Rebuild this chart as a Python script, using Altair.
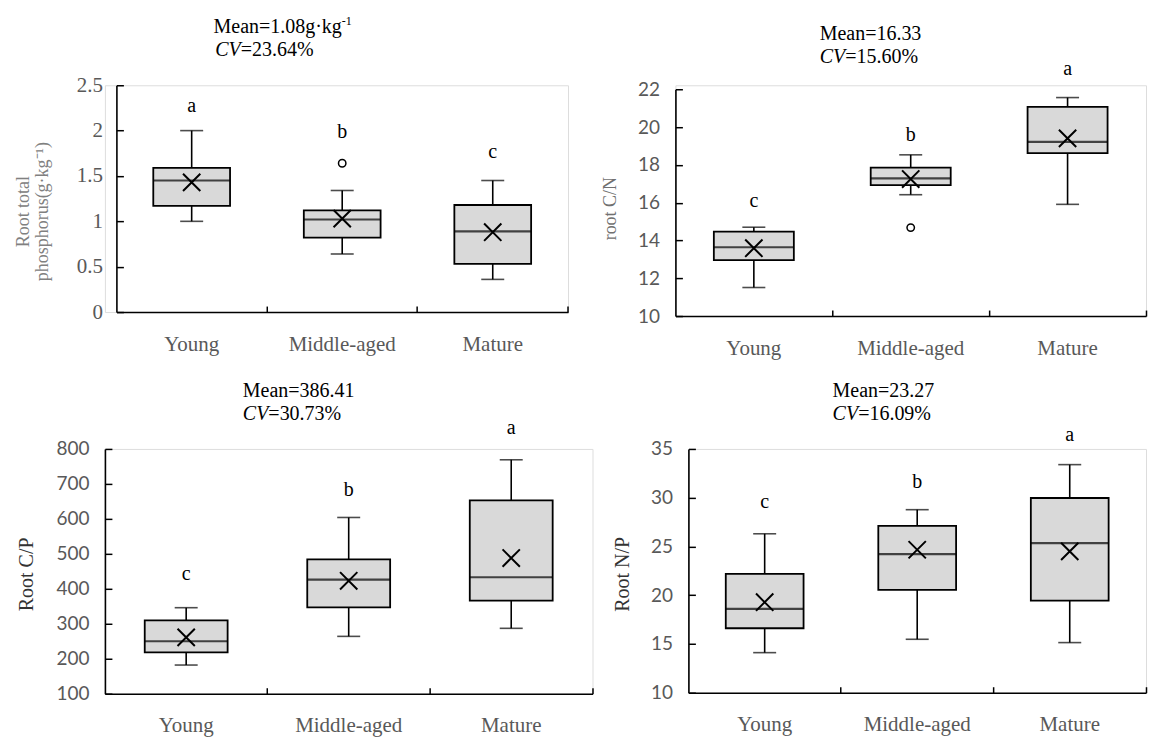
import altair as alt
import pandas as pd

# ---------------- data ----------------
cats = ["Young", "Middle-aged", "Mature"]

# Panel 1: root total phosphorus
p1_lower = [1.00, 0.64, 0.36]
p1_q1 = [1.17, 0.82, 0.53]
p1_median = [1.45, 1.02, 0.89]
p1_q3 = [1.59, 1.12, 1.18]
p1_upper = [2.00, 1.34, 1.45]
p1_mean = [1.43, 1.03, 0.88]
p1_out_cat = ["Middle-aged"]
p1_out_val = [1.64]
p1_letters = ["a", "b", "c"]
p1_letter_y = [2.27, 1.98, 1.76]
p1_ticks = [0, 0.5, 1, 1.5, 2, 2.5]

# Panel 2: root C/N
p2_lower = [11.51, 16.42, 15.91]
p2_q1 = [12.96, 16.93, 18.62]
p2_median = [13.64, 17.28, 19.22]
p2_q3 = [14.47, 17.85, 21.07]
p2_upper = [14.70, 18.53, 21.56]
p2_mean = [13.59, 17.25, 19.40]
p2_out_cat = ["Middle-aged"]
p2_out_val = [14.68]
p2_letters = ["c", "b", "a"]
p2_letter_y = [16.1, 19.6, 23.06]
p2_ticks = [10, 12, 14, 16, 18, 20, 22]

# Panel 3: root C/P
p3_lower = [182, 264, 287]
p3_q1 = [218, 347, 366]
p3_median = [250, 426, 433]
p3_q3 = [310, 484, 653]
p3_upper = [346, 604, 769]
p3_mean = [261, 423, 488]
p3_letters = ["c", "b", "a"]
p3_letter_y = [443, 683, 859]
p3_ticks = [100, 200, 300, 400, 500, 600, 700, 800]

# Panel 4: root N/P
p4_lower = [14.11, 15.48, 15.14]
p4_q1 = [16.61, 20.55, 19.45]
p4_median = [18.60, 24.21, 25.34]
p4_q3 = [22.19, 27.12, 29.97]
p4_upper = [26.30, 28.77, 33.39]
p4_mean = [19.28, 24.66, 24.49]
p4_letters = ["c", "b", "a"]
p4_letter_y = [29.55, 31.6, 36.4]
p4_ticks = [10, 15, 20, 25, 30, 35]

# header texts
p1_mean_txt, p1_sup_txt, p1_cv_txt = "Mean=1.08g·kg", "-1", "=23.64%"
p2_mean_txt, p2_cv_txt = "Mean=16.33", "=15.60%"
p3_mean_txt, p3_cv_txt = "Mean=386.41", "=30.73%"
p4_mean_txt, p4_cv_txt = "Mean=23.27", "=16.09%"
cv_word = "CV"

# ---------------- style ----------------
SERIF = "Liberation Serif"
SANS = "Lato"
GRAY = "#595959"
FILL = "#d9d9d9"
XPATH = "M-1,-1L1,1M-1,1L1,-1"
one = pd.DataFrame({"k": [0]})


def header(x0, y_mean, y_cv, mean_txt, cv_txt, sup_txt=None):
    layers = []
    if sup_txt is None:
        layers.append(alt.Chart(one).mark_text(align="left", baseline="alphabetic", font=SERIF,
                                               fontSize=20, color="black")
                      .encode(x=alt.value(x0), y=alt.value(y_mean), text=alt.value(mean_txt)))
    else:
        xj = x0 + 126.8
        layers.append(alt.Chart(one).mark_text(align="right", baseline="alphabetic", font=SERIF,
                                               fontSize=20, color="black")
                      .encode(x=alt.value(xj), y=alt.value(y_mean), text=alt.value(mean_txt)))
        layers.append(alt.Chart(one).mark_text(align="left", baseline="alphabetic", font=SERIF,
                                               fontSize=12, color="black")
                      .encode(x=alt.value(xj), y=alt.value(y_mean - 8), text=alt.value(sup_txt)))
    xc = x0 + 25.6
    layers.append(alt.Chart(one).mark_text(align="right", baseline="alphabetic", font=SERIF,
                                           fontSize=20, fontStyle="italic", color="black")
                  .encode(x=alt.value(xc), y=alt.value(y_cv), text=alt.value(cv_word)))
    layers.append(alt.Chart(one).mark_text(align="left", baseline="alphabetic", font=SERIF,
                                           fontSize=20, color="black")
                  .encode(x=alt.value(xc), y=alt.value(y_cv), text=alt.value(cv_txt)))
    return layers


def panel(lower, q1, med, q3, upper, mean, letters, letter_y, ticks, W, H, dx, dy,
          ytitle, ytitle_size, ytitle_color, ytitle_x, ytitle_y, tick_font, tick_size, label_pad,
          tick_fmt, hx, hy_mean, hy_cv, mean_txt, cv_txt, sup_txt=None,
          out_cat=None, out_val=None):
    df = pd.DataFrame({"cat": cats, "lower": lower, "q1": q1, "median": med,
                       "q3": q3, "upper": upper, "mean": mean})
    ldf = pd.DataFrame({"cat": cats, "letter": letters, "y": letter_y})
    xs = alt.Scale(type="band", domain=cats, paddingInner=0, paddingOuter=0, range=[dx, dx + W])
    ys = alt.Scale(domain=[ticks[0], ticks[-1]], nice=False, zero=False, range=[dy + H, dy])
    boxw = 0.51 * W / 3

    x_main = alt.Axis(orient="bottom", ticks=False, domainColor="black", domainWidth=1.6,
                      labelFont=SERIF, labelFontSize=21, labelColor=GRAY, labelPadding=21,
                      labelAngle=0, title=None, grid=False)
    y_main = alt.Axis(orient="left", offset=-dx, values=ticks, format=tick_fmt, ticks=False,
                      domainColor="black", domainWidth=1.6, labelFont=tick_font,
                      labelFontSize=tick_size, labelColor=GRAY, labelPadding=label_pad,
                      grid=False, title=ytitle, titleFont=SERIF, titleFontSize=ytitle_size,
                      titleColor=ytitle_color, titleFontWeight="normal", titleX=ytitle_x,
                      titleY=ytitle_y + dy, titleAngle=270, titleBaseline="bottom",
                      titleAlign="center", titleLineHeight=19)
    x_tick = alt.Axis(orient="top", offset=-(H + dy), labels=False, domain=False, ticks=True,
                      tickSize=6, tickColor="black", tickWidth=1.5, bandPosition=1,
                      title=None, grid=False)
    y_tick = alt.Axis(orient="right", offset=-W, values=ticks, labels=False, domain=False,
                      ticks=True, tickSize=7, tickColor="black", tickWidth=1.5,
                      title=None, grid=False)

    X0 = alt.X("cat:N", scale=xs, axis=None)

    whisk = alt.Chart(df).mark_rule(color="black", strokeWidth=1.6).encode(
        x=alt.X("cat:N", scale=xs, axis=x_tick),
        y=alt.Y("lower:Q", scale=ys, axis=y_tick), y2="upper:Q")
    box = alt.Chart(df).mark_bar(width=alt.RelativeBandSize(0.51), fill=FILL, stroke="black",
                                 strokeWidth=1.8).encode(
        x=alt.X("cat:N", scale=xs, axis=x_main),
        y=alt.Y("q1:Q", scale=ys, axis=y_main), y2="q3:Q")
    medl = alt.Chart(df).mark_tick(size=boxw, thickness=2.2, color="black").encode(
        x=X0, y=alt.Y("median:Q", scale=ys, axis=None))
    cap_lo = alt.Chart(df).mark_tick(size=23, thickness=1.6, color="black").encode(
        x=X0, y=alt.Y("lower:Q", scale=ys, axis=None))
    cap_hi = alt.Chart(df).mark_tick(size=23, thickness=1.6, color="black").encode(
        x=X0, y=alt.Y("upper:Q", scale=ys, axis=None))
    meanpt = alt.Chart(df).mark_point(shape=XPATH, size=300, filled=False, stroke="black",
                                      strokeWidth=2, opacity=1).encode(
        x=X0, y=alt.Y("mean:Q", scale=ys, axis=None))
    lett = alt.Chart(ldf).mark_text(font=SERIF, fontSize=20, baseline="middle",
                                    color="black").encode(
        x=X0, y=alt.Y("y:Q", scale=ys, axis=None), text="letter:N")
    layers = [whisk, box, medl, cap_lo, cap_hi, meanpt, lett]
    if out_cat:
        odf = pd.DataFrame({"cat": out_cat, "v": out_val})
        layers.append(alt.Chart(odf).mark_point(shape="circle", size=55, filled=True,
                                                fill="white", stroke="black", strokeWidth=1.5,
                                                opacity=1).encode(
            x=X0, y=alt.Y("v:Q", scale=ys, axis=None)))
    layers += header(hx + dx, hy_mean + dy, hy_cv + dy, mean_txt, cv_txt, sup_txt)
    return alt.layer(*layers).resolve_axis(x="independent", y="independent").properties(
        width=W + dx, height=H + dy)


p1 = panel(p1_lower, p1_q1, p1_median, p1_q3, p1_upper, p1_mean, p1_letters, p1_letter_y,
           p1_ticks, 452, 227, 11.5, 0, ["Root total", "phosphorus(g·kg⁻¹)"], 18, "#808080",
           -84, 126, SERIF, 21, 14, ".1~f", 98.8, -52, -29.7, p1_mean_txt, p1_cv_txt,
           p1_sup_txt, p1_out_cat, p1_out_val)
p2 = panel(p2_lower, p2_q1, p2_median, p2_q3, p2_upper, p2_mean, p2_letters, p2_letter_y,
           p2_ticks, 471, 227, 0, 4, "root C/N", 18, "#707070", -56, 119,
           SANS, 19, 16, "d", 144.4, -49.7, -26.3, p2_mean_txt, p2_cv_txt,
           None, p2_out_cat, p2_out_val)
p3 = panel(p3_lower, p3_q1, p3_median, p3_q3, p3_upper, p3_mean, p3_letters, p3_letter_y,
           p3_ticks, 488, 245, 0, 0, "Root C/P", 20, "#333333", -68, 125,
           SANS, 19, 16, "d", 138, -51.7, -29, p3_mean_txt, p3_cv_txt)
p4 = panel(p4_lower, p4_q1, p4_median, p4_q3, p4_upper, p4_mean, p4_letters, p4_letter_y,
           p4_ticks, 458, 244, 0, 0, "Root N/P", 20, "#333333", -56, 125,
           SANS, 19, 16, "d", 144.3, -51.7, -29, p4_mean_txt, p4_cv_txt)

top = alt.hconcat(p1, p2, spacing=107, bounds="flush")
bottom = alt.hconcat(p3, p4, spacing=96, bounds="flush")
chart = (alt.concat(top, bottom, columns=1, spacing=21, align="none")
         .properties(padding={"left": 6, "top": 6, "right": 0, "bottom": 0})
         .configure_view(stroke="transparent")
         .configure(font=SERIF))

chart.save("out.html", embed_options={"renderer": "svg", "actions": False})
